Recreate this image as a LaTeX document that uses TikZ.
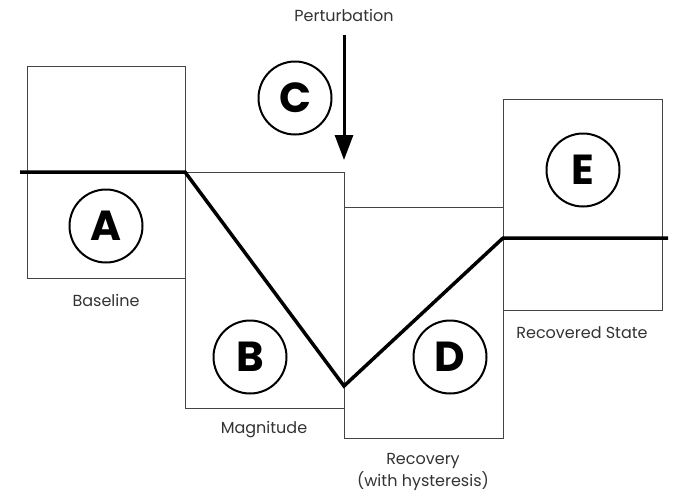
\documentclass[tikz,border=0pt]{standalone}
\usepackage{fontspec}
\setmainfont{Poppins}
\usetikzlibrary{arrows.meta}
\definecolor{boxgray}{HTML}{444444}
\definecolor{txtgray}{HTML}{333333}
\tikzset{
  stagebox/.style={draw=boxgray, line width=1pt, anchor=north west, inner sep=0pt, outer sep=0pt},
  stagecirc/.style={circle, draw=black, line width=2pt, minimum size=73pt, inner sep=0pt, font=\fontsize{42}{46}\selectfont\bfseries},
  lbl/.style={text=txtgray, font=\fontsize{16}{22}\selectfont, align=center, inner sep=0pt},
  curve/.style={line width=3.5pt, line join=miter, line cap=butt},
  pert/.style={line width=3pt, -{Triangle[width=18pt,length=25pt]}}
}
\begin{document}
\begin{tikzpicture}[x=1pt,y=-1pt]
\useasboundingbox (0,0) rectangle (674,496);
\fill[white] (0,0) rectangle (674,496);
% boxes
\node[stagebox, minimum width=158pt, minimum height=212pt] (boxA) at (27,66) {};
\node[stagebox, minimum width=159pt, minimum height=236pt] (boxB) at (185,172) {};
\node[stagebox, minimum width=159pt, minimum height=231pt] (boxD) at (344,207) {};
\node[stagebox, minimum width=159pt, minimum height=211pt] (boxE) at (503,99) {};
% circles
\node[stagecirc] (cA) at (106,226) {A};
\node[stagecirc] (cB) at (250,357) {B};
\node[stagecirc] (cC) at (295,98) {C};
\node[stagecirc] (cD) at (450,357) {D};
\node[stagecirc] (cE) at (583,170) {E};
% response curve
\coordinate (p0) at (20,172);
\coordinate (p1) at (185,172);
\coordinate (p2) at (344,386);
\coordinate (p3) at (503,238);
\coordinate (p4) at (668,238);
\draw[curve] (p0) -- (p1) -- (p2) -- (p3) -- (p4);
% perturbation arrow
\node[lbl] (lPert) at (344,15) {Perturbation};
\coordinate (aStart) at (344,35);
\coordinate (aEnd) at (344,160);
\draw[pert] (aStart) -- (aEnd);
% labels
\node[lbl] (lBase) at (106,300) {Baseline};
\node[lbl] (lMag) at (264,430) {Magnitude};
\node[lbl] (lRec) at (423,472) {Recovery\\(with hysteresis)};
\node[lbl] (lRS) at (582,333) {Recovered State};
\end{tikzpicture}
\end{document}
